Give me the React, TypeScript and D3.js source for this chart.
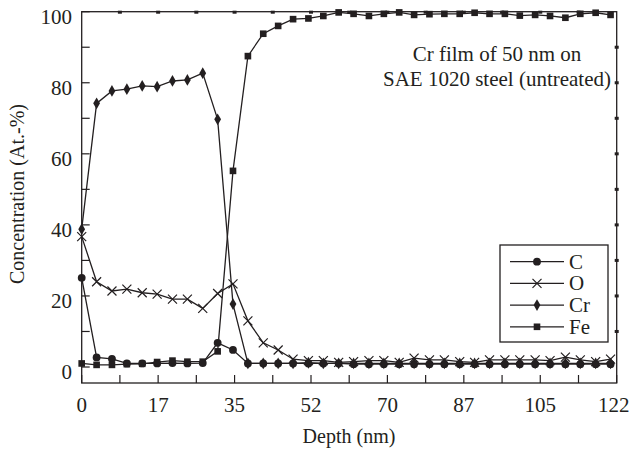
import React from "react";
import { scaleLinear, line, symbol, symbolCircle, symbolSquare, symbolDiamond } from "d3";

// depth of each sputter step (nm)
const depth = [
  0, 3.4, 6.9, 10.3, 13.8, 17.2, 20.7, 24.1, 27.6, 31.0, 34.5, 37.9, 41.4, 44.8, 48.2, 51.7, 55.1, 58.6,
  62.0, 65.5, 68.9, 72.4, 75.8, 79.3, 82.7, 86.2, 89.6, 93.0, 96.5, 99.9, 103.4, 106.8, 110.3, 113.7, 117.2, 120.6,
];

const carbon = [
  25.1, 2.7, 2.3, 1.0, 1.0, 1.0, 1.1, 1.0, 1.1, 6.8, 4.8, 1.0, 1.0, 1.0, 1.0, 1.0, 1.0, 1.0,
  0.8, 0.8, 0.8, 0.8, 0.8, 0.8, 0.8, 0.8, 0.8, 0.8, 0.8, 0.8, 0.8, 0.8, 0.8, 0.8, 0.8, 0.8,
];
const oxygen = [
  36.7, 24.0, 21.4, 21.9, 20.9, 20.5, 19.1, 19.1, 16.5, 20.7, 23.4, 13.0, 6.8, 4.8, 2.2, 1.8, 1.8, 1.3,
  1.5, 1.8, 1.8, 1.3, 2.5, 2.0, 2.0, 1.5, 1.3, 2.0, 2.0, 2.0, 2.0, 1.8, 2.8, 2.0, 1.5, 2.2,
];
const chromium = [
  38.8, 74.2, 77.7, 78.2, 79.1, 78.9, 80.5, 80.8, 82.7, 69.7, 17.7, 1.0, 1.0, 1.0, 1.0, 1.2, 1.0, 1.0,
  1.0, 1.0, 1.0, 1.0, 1.0, 1.0, 1.0, 1.0, 1.0, 1.0, 1.0, 1.0, 1.0, 1.0, 1.0, 1.0, 1.0, 1.0,
];
const iron = [
  1.0, 0.6, 0.6, 0.8, 0.9, 1.4, 1.8, 1.5, 1.5, 4.4, 55.2, 87.5, 93.8, 96.0, 97.9, 98.1, 98.8, 99.8,
  99.4, 98.8, 99.4, 99.8, 99.1, 99.3, 99.4, 99.4, 99.7, 99.4, 99.4, 98.9, 99.1, 98.8, 98.3, 99.4, 99.7, 99.1,
];

const xTicks = [0, 17.43, 34.86, 52.29, 69.71, 87.14, 104.57, 122];
const xTickLabels = ["0", "17", "35", "52", "70", "87", "105", "122"];
const xMinorTicks = [8.71, 26.14, 43.57, 61.0, 78.43, 95.86, 113.29];
const yTicks = [0, 20, 40, 60, 80, 100];
const yMinorTicks = [10, 30, 50, 70, 90];

const seriesNames = ["C", "O", "Cr", "Fe"];
const seriesValues = [carbon, oxygen, chromium, iron];
const noteLines = ["Cr film of 50 nm on", "SAE 1020 steel (untreated)"];

const ink = "#231f20";
const font = "Liberation Serif";

const x = scaleLinear().domain([0, 122]).range([81.7, 616.7]);
const y = scaleLinear().domain([-4.5, 100]).range([383, 11.7]);
const [x0, x1] = x.range();
const [yb, yt] = y.range();

const lineGen = line<number>()
  .x((d, i) => x(depth[i]))
  .y((d) => y(d));

const Marker = ({ name, cx, cy }: { name: string; cx: number; cy: number }) => {
  if (name === "O") {
    const s = 4.5;
    return (
      <path
        d={`M${cx - s},${cy - s}L${cx + s},${cy + s}M${cx - s},${cy + s}L${cx + s},${cy - s}`}
        stroke={ink}
        strokeWidth={1.2}
        fill="none"
      />
    );
  }
  const type = name === "C" ? symbolCircle : name === "Cr" ? symbolDiamond : symbolSquare;
  const size = name === "C" ? 48 : name === "Cr" ? 40 : 44;
  return <path d={symbol(type, size)() || ""} transform={`translate(${cx},${cy})`} fill={ink} />;
};

export default function App() {
  document.body.style.margin = "0";

  return (
    <div style={{ padding: 0 }}>
      <svg width={630} height={455} fontFamily={font} style={{ display: "block", background: "white", fontFamily: font }}>
        {/* series lines */}
        {seriesValues.map((vals, k) => (
          <path key={"l" + k} d={lineGen(vals) || ""} fill="none" stroke={ink} strokeWidth={1.3} />
        ))}
        {seriesValues.map((vals, k) =>
          vals.map((v, i) => <Marker key={`m${k}-${i}`} name={seriesNames[k]} cx={x(depth[i])} cy={y(v)} />)
        )}

        {/* frame */}
        <rect x={x0} y={yt} width={x1 - x0} height={yb - yt} fill="none" stroke={ink} strokeWidth={1.3} />

        {/* ticks */}
        <g stroke={ink} strokeWidth={1.2}>
          {[...xTicks, ...xMinorTicks].map((t) => (
            <line key={"bx" + t} x1={x(t)} x2={x(t)} y1={yb} y2={yb - 8} />
          ))}
          {[...yTicks, ...yMinorTicks].map((t) => (
            <line key={"ly" + t} x1={x0} x2={x0 + 8} y1={y(t)} y2={y(t)} />
          ))}
        </g>
        {[...xTicks.slice(1, -1), ...xMinorTicks].map((t) => (
          <rect key={"tx" + t} x={x(t) - 2} y={yt - 1} width={4} height={3} fill={ink} />
        ))}
        {[...yTicks.slice(1, -1), ...yMinorTicks].map((t) => (
          <rect key={"ry" + t} x={x1 - 2} y={y(t) - 1.5} width={4} height={3} fill={ink} />
        ))}

        {/* tick labels */}
        {xTicks.map((t, i) => (
          <text
            key={"xl" + i}
            x={i === xTicks.length - 1 ? x(t) - 3 : x(t)}
            y={412}
            textAnchor="middle"
            fill={ink}
            fontFamily={font}
            fontSize={21}
          >
            {xTickLabels[i]}
          </text>
        ))}
        {yTicks.map((t) => (
          <text key={"yl" + t} x={72} y={y(t) + 12} textAnchor="end" fill={ink} fontFamily={font} fontSize={21}>
            {String(t)}
          </text>
        ))}

        {/* axis titles */}
        <text x={349} y={443} textAnchor="middle" fill={ink} fontFamily={font} fontSize={20}>
          Depth (nm)
        </text>
        <text
          transform="translate(24,194) rotate(-90)"
          textAnchor="middle"
          fill={ink}
          fontFamily={font}
          fontSize={20}
        >
          Concentration (At.-%)
        </text>

        {/* annotation */}
        {noteLines.map((s, i) => (
          <text key={"n" + i} x={497} y={61 + i * 25} textAnchor="middle" fill={ink} fontFamily={font} fontSize={21}>
            {s}
          </text>
        ))}

        {/* legend */}
        <rect x={500} y={245} width={108} height={97} fill="white" stroke={ink} strokeWidth={1.3} />
        {seriesNames.map((name, k) => {
          const ly = 261.7 + k * 21.7;
          return (
            <g key={"lg" + name}>
              <line x1={510} x2={564} y1={ly} y2={ly} stroke={ink} strokeWidth={1.3} />
              <Marker name={name} cx={537} cy={ly} />
              <text x={569} y={ly + 7} fill={ink} fontFamily={font} fontSize={21}>
                {name}
              </text>
            </g>
          );
        })}
      </svg>
    </div>
  );
}
